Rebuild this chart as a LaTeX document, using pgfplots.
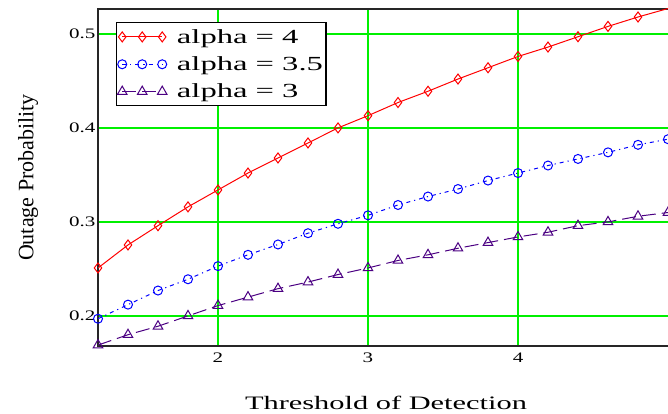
\documentclass[border=0pt]{standalone}
\usepackage{pgfplots}
\pgfplotsset{compat=1.18}
\usepackage{fontspec}
\setmainfont{Liberation Serif}
\newfontfamily\tickfont[FakeStretch=1.45]{Liberation Serif}
\newfontfamily\labfont[FakeStretch=1.6]{Liberation Serif}
\newfontfamily\legfont[FakeStretch=1.63]{Liberation Serif}
\definecolor{gridgreen}{RGB}{0,240,0}
\definecolor{apurple}{RGB}{75,0,130}
\pgfplotstableread{
x a4 a35 a3
1.2 0.251 0.197 0.169
1.4 0.2755 0.212 0.180
1.6 0.296 0.227 0.189
1.8 0.316 0.239 0.200
2.0 0.334 0.253 0.211
2.2 0.352 0.265 0.220
2.4 0.368 0.276 0.229
2.6 0.384 0.288 0.236
2.8 0.400 0.298 0.244
3.0 0.413 0.307 0.251
3.2 0.427 0.318 0.259
3.4 0.439 0.327 0.265
3.6 0.452 0.335 0.272
3.8 0.464 0.344 0.278
4.0 0.476 0.352 0.284
4.2 0.486 0.360 0.289
4.4 0.497 0.367 0.296
4.6 0.508 0.374 0.300
4.8 0.518 0.382 0.306
5.0 0.527 0.388 0.310
}\datatable
\begin{document}
\begin{tikzpicture}
\useasboundingbox (0,0) rectangle (668bp,414bp);
\begin{axis}[
  at={(98bp,68bp)}, anchor=south west,
  scale only axis, width=576bp, height=337bp,
  xmin=1.2, xmax=5.04, ymin=0.168, ymax=0.5265,
  xtick={2,3,4}, ytick={0.2,0.3,0.4,0.5},
  /pgf/number format/assume math mode=true,
  /pgf/number format/fixed,
  yticklabel style={/pgf/number format/precision=1, /pgf/number format/fixed zerofill, xshift=1bp},
  xticklabel style={yshift=-3bp},
  ticklabel style={font=\fontsize{14.5bp}{16bp}\tickfont},
  major tick length=0pt,
  grid=major,
  major grid style={gridgreen, line width=1.8bp},
  axis line style={black!85, line width=1.5bp},
  xlabel={Threshold of Detection},
  ylabel={Outage Probability},
  xlabel style={font=\fontsize{19bp}{22bp}\labfont, at={(axis description cs:0.5,0)}, anchor=center, yshift=-57bp},
  ylabel style={font=\fontsize{22bp}{24bp}\selectfont, at={(axis description cs:0,0.5)}, anchor=center, rotate=0, yshift=70bp},
  legend style={at={(0.031,0.961)}, anchor=north west, draw=black, line width=1.2bp,
     font=\fontsize{20bp}{22bp}\legfont, row sep=8bp, column sep=8bp, inner xsep=1bp, inner ysep=4.5bp},
  legend cell align=left,
  legend image code/.code={\draw[mark repeat=1, #1] plot coordinates {(0bp,0bp) (20bp,0bp) (40bp,0bp)};},
]
\addplot[red, line width=1bp, mark=diamond, mark size=5bp, mark options={solid, line width=1bp}] table[x=x, y=a4] {\datatable};
\addlegendentry{alpha = 4}
\addplot[blue, line width=1bp, dash pattern=on 4bp off 4bp on 1.2bp off 4bp, mark=o, mark size=4.5bp, mark options={solid, line width=1bp}] table[x=x, y=a35] {\datatable};
\addlegendentry{alpha = 3.5}
\addplot[apurple, line width=1bp, dash pattern=on 14bp off 6bp, mark=triangle, mark size=5.5bp, mark options={solid, line width=1bp}] table[x=x, y=a3] {\datatable};
\addlegendentry{alpha = 3}
\end{axis}
\end{tikzpicture}
\end{document}
